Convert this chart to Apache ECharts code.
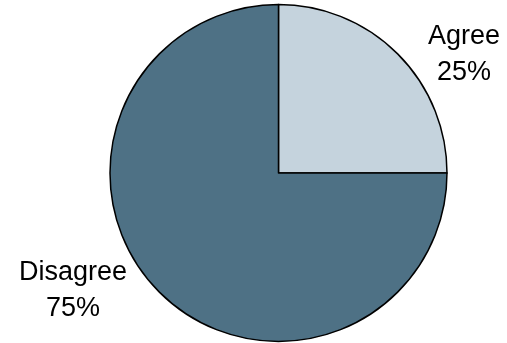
<!DOCTYPE html>
<html><head><meta charset="utf-8">
<script src="https://cdn.jsdelivr.net/npm/echarts@6/dist/echarts.min.js"></script>
<style>html,body{margin:0;padding:0;background:#fff}#c{width:507px;height:343px}</style>
</head><body><div id="c"></div>
<script>
const categories = ["Agree", "Disagree"];
const values = [25, 75];
const colors = ["#c5d3dd", "#4e7185"];
const labelPos = [[464, 55], [73, 291]];

const chart = echarts.init(document.getElementById('c'), null, {renderer: 'canvas'});
chart.setOption({
  animation: false,
  series: [{
    type: 'pie',
    center: [278.5, 173],
    radius: [0, 168.5],
    startAngle: 90,
    clockwise: true,
    avoidLabelOverlap: false,
    data: categories.map((n, i) => ({name: n, value: values[i], itemStyle: {color: colors[i]}})),
    itemStyle: {borderColor: '#000', borderWidth: 1.5},
    label: {
      show: true,
      position: 'outside',
      overflow: 'none',
      width: 200,
      formatter: p => p.name + '\n' + Math.round(p.percent) + '%',
      fontFamily: 'Liberation Sans, Arial, sans-serif',
      fontSize: 27,
      lineHeight: 36,
      color: '#000',
      align: 'center'
    },
    labelLine: {show: false},
    labelLayout: p => ({x: labelPos[p.dataIndex][0], y: labelPos[p.dataIndex][1], align: 'center', verticalAlign: 'middle'})
  }]
});
</script></body></html>
